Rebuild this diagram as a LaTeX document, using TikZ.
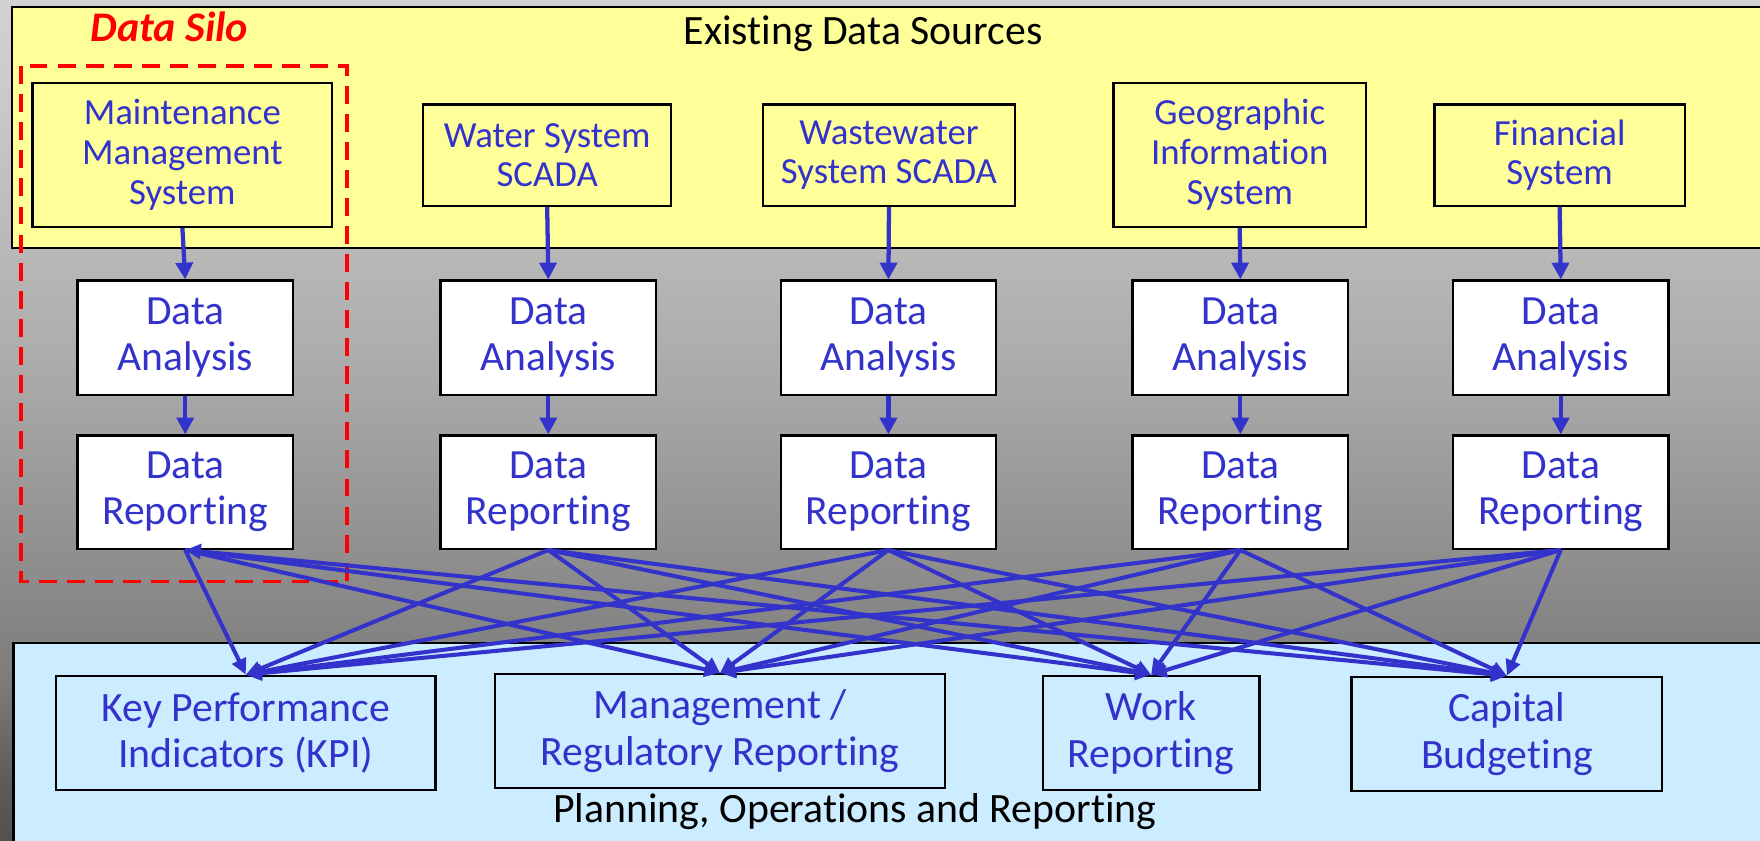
\documentclass[tikz,border=0pt]{standalone}
\usepackage{fontspec}
\setmainfont{Carlito}[Ligatures=NoCommon]
\usetikzlibrary{arrows.meta}

\definecolor{panelyellow}{HTML}{FFFF99}
\definecolor{panelblue}{HTML}{CCECFF}
\definecolor{inkblue}{HTML}{3333CC}
\definecolor{silored}{HTML}{FF0000}
\definecolor{bgA}{gray}{0.08}
\definecolor{bgB}{gray}{0.22}
\definecolor{bgC}{gray}{0.36}
\definecolor{bgD}{gray}{0.49}
\definecolor{bgE}{gray}{0.67}
\definecolor{bgF}{gray}{0.80}
\definecolor{bgG}{gray}{0.95}

% vertical backdrop: dark at the bottom, light at the top
\pgfdeclareverticalshading{backdrop}{100bp}{%
  color(0bp)=(bgA); color(16.7bp)=(bgB); color(28.6bp)=(bgC);
  color(34.7bp)=(bgD); color(53bp)=(bgE); color(70.5bp)=(bgF);
  color(100bp)=(bgG)}

\begin{document}
\begin{tikzpicture}[x=0.5pt,y=-0.5pt,
  srcbox/.style={draw=black, line width=1pt, fill=panelyellow, text=inkblue,
    align=center, inner sep=0pt, font=\fontsize{16.4pt}{17.75pt}\selectfont},
  midbox/.style={draw=black, line width=1pt, fill=white, text=inkblue,
    align=center, inner sep=0pt, minimum width=96pt,
    font=\fontsize{18.5pt}{20.5pt}\selectfont},
  outbox/.style={draw=black, line width=1pt, fill=panelblue, text=inkblue,
    align=center, inner sep=0pt, font=\fontsize{18.6pt}{20.75pt}\selectfont},
  feed/.style={draw=inkblue, line width=1.9pt, -{Triangle[length=7.5pt,width=7.5pt]}},
  link/.style={draw=inkblue, line width=1.8pt, -{Triangle[length=7pt,width=6.5pt]}},
  paneltitle/.style={anchor=base, text=black, font=\fontsize{18.6pt}{20.75pt}\selectfont}
]
\useasboundingbox (0,0) rectangle (1568,749);

% backdrop and the two panels
\shade[shading=backdrop] (0,0) rectangle (1568,749);
\draw[fill=panelyellow, line width=1pt] (11,6.5) rectangle (1590,221);
\draw[fill=panelblue, line width=1pt] (12,573) rectangle (1590,770);

\node[paneltitle] (srctitle) at (769,40) {Existing Data Sources};
\node[paneltitle] (outtitle) at (761.5,733) {Planning, Operations and Reporting};

% data silo frame
\draw[silored, line width=1.6pt, dash pattern=on 8pt off 4.5pt] (18.7,59) rectangle (309,518);
\node[anchor=base, text=silored, font=\fontsize{18.8pt}{20pt}\selectfont\bfseries\itshape] (silo) at (151,37) {Data Silo};

% existing sources
\node[srcbox, minimum width=133.5pt, minimum height=64pt] (s1) at (162.5,138) {Maintenance\\Management\\System};
\node[srcbox, minimum width=110.5pt, minimum height=45.25pt] (s2) at (487.5,138.25) {Water System\\SCADA};
\node[srcbox, minimum width=112pt, minimum height=45.25pt] (s3) at (792,138.25) {Wastewater\\System SCADA};
\node[srcbox, minimum width=112.5pt, minimum height=64pt] (s4) at (1104.5,138) {Geographic\\Information\\System};
\node[srcbox, minimum width=111.5pt, minimum height=45.25pt] (s5) at (1389.5,138.25) {Financial\\System};

% analysis and reporting columns
\foreach \i/\x in {1/165,2/488.5,3/791.5,4/1105,5/1390.5}{
  \node[midbox, minimum height=51pt] (a\i) at (\x,301) {Data\\Analysis};
  \node[midbox, minimum height=50.5pt] (r\i) at (\x,438.5) {Data\\Reporting};
  \draw[feed] (s\i.south) -- (a\i.north);
  \draw[feed] (a\i.south) -- (r\i.north);
}

% planning, operations and reporting outputs
\node[outbox, minimum width=169pt, minimum height=51pt] (kpi) at (219,653) {Key Performance\\Indicators (KPI)};
\node[outbox, minimum width=200.5pt, minimum height=50.75pt] (mgmt) at (641.5,651.25) {Management /\\Regulatory Reporting};
\node[outbox, minimum width=96.5pt, minimum height=51pt] (work) at (1025.5,653) {Work\\Reporting};
\node[outbox, minimum width=138.5pt, minimum height=51pt] (cap) at (1342.5,654) {Capital\\Budgeting};

% every reporting box feeds every output
\foreach \s in {r2,r3,r4,r5}{
  \foreach \t in {kpi,mgmt,work,cap}{
    \draw[link] (\s.south) -- (\t.north);
  }
}
\foreach \t in {kpi,mgmt,work}{
  \draw[link] (r1.south) -- (\t.north);
}
\draw[link, {Triangle[length=7pt,width=6.5pt]}-{Triangle[length=7pt,width=6.5pt]}] (r1.south) -- (cap.north);
\end{tikzpicture}
\end{document}
